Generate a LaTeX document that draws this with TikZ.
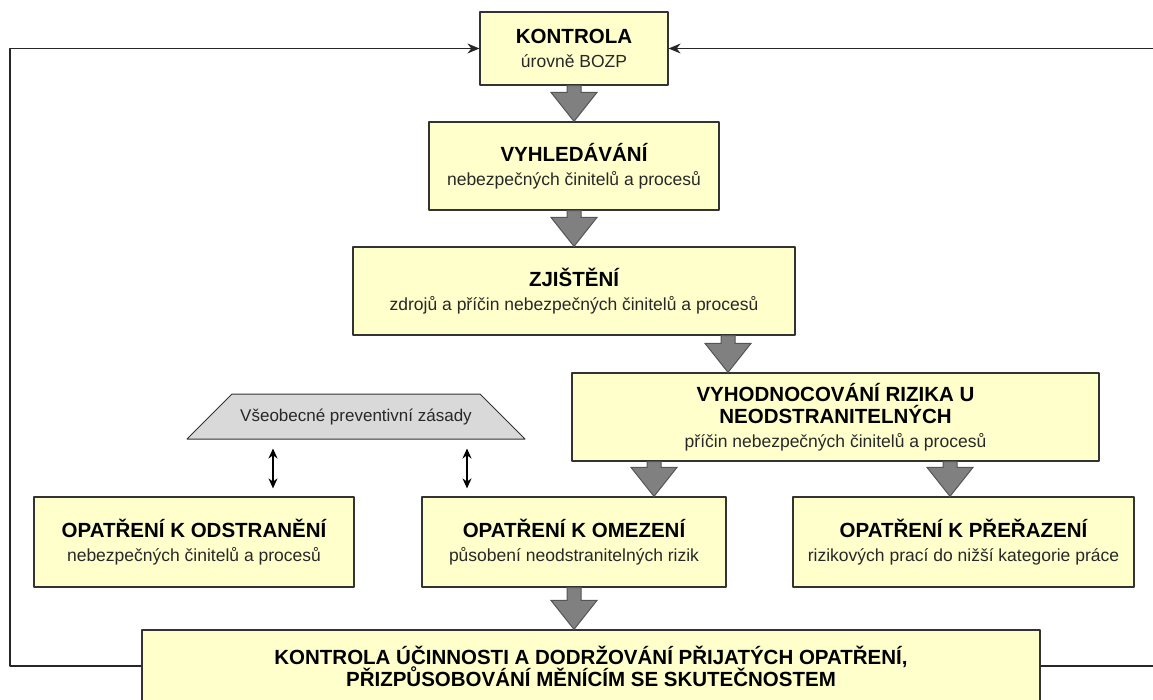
\documentclass[tikz,border=0pt]{standalone}
\usepackage{fontspec}
\setmainfont{Liberation Sans}
\usetikzlibrary{arrows.meta,calc,shapes.geometric}
\definecolor{boxfill}{RGB}{255,255,204}
\definecolor{boxline}{RGB}{51,51,51}
\definecolor{arrfill}{RGB}{128,128,128}
\definecolor{arrline}{RGB}{85,85,85}
\definecolor{trapfill}{RGB}{217,217,217}
\definecolor{subtext}{RGB}{40,40,40}
\newcommand{\ttl}[1]{{\color{black}\bfseries\fontsize{20.5}{22}\selectfont #1}}
\newcommand{\blockarrow}[2]{%
	\filldraw[draw=arrline, fill=arrfill, line width=1pt, line join=miter] let \p1=(#1), \p2=(#2) in
	(\x1-7pt,\y1) -- (\x1+7pt,\y1) -- (\x1+7pt,\y2+29pt) -- (\x1+23pt,\y2+29pt)
	-- (\x1,\y2) -- (\x1-23pt,\y2+29pt) -- (\x1-7pt,\y2+29pt) -- cycle;}
\begin{document}
\begin{tikzpicture}[x=1pt, y=-1pt, line join=round, >={Stealth[length=12pt,width=10pt]},
	box/.style={draw=boxline, fill=boxfill, line width=1.2pt, align=center, inner sep=0pt,
		text=subtext, font=\fontsize{17.5}{24}\selectfont},
	fback/.style={draw=black!85, line width=1.4pt, ->},
	dblarr/.style={line width=1.5pt, {Stealth[length=10pt,width=9pt]}-{Stealth[length=10pt,width=9pt]}}]
			\useasboundingbox (0,0) rectangle (1153,700);
			\clip (0,0) rectangle (1153,700);
			\coordinate (lx) at (10,0); \coordinate (rx) at (1160,0);
			\coordinate (dl) at (273,0); \coordinate (dr) at (467,0);
			\coordinate (p3) at (728,0); \coordinate (p4) at (654,0); \coordinate (p5) at (950,0);
			\node[box, minimum width=188pt, minimum height=73pt] (b1) at (574,48.5) {\ttl{KONTROLA}\\úrovně BOZP};
			\node[box, minimum width=290pt, minimum height=88pt] (b2) at (574,166) {\ttl{VYHLEDÁVÁNÍ}\\nebezpečných činitelů a procesů};
			\node[box, minimum width=442pt, minimum height=88pt] (b3) at (574,291) {\ttl{ZJIŠTĚNÍ}\\zdrojů a příčin nebezpečných činitelů a procesů};
			\node[box, minimum width=527pt, minimum height=88pt] (b4) at (835.5,417) {\ttl{VYHODNOCOVÁNÍ RIZIKA U}\\[-2pt]\ttl{NEODSTRANITELNÝCH}\\příčin nebezpečných činitelů a procesů};
			\node[trapezium, trapezium angle=45, trapezium stretches body, draw=boxline, fill=trapfill, line width=1pt,
				text height=13pt, text depth=4pt, inner ysep=14pt, minimum width=338pt,
				text=subtext, font=\fontsize{17}{24}\selectfont] (zas) at (356,416.5) {Všeobecné preventivní zásady};
			\node[box, minimum width=320pt, minimum height=90pt] (odstr) at (194,542) {\ttl{OPATŘENÍ K ODSTRANĚNÍ}\\nebezpečných činitelů a procesů};
			\node[box, minimum width=304pt, minimum height=90pt] (omez) at (574,542) {\ttl{OPATŘENÍ K OMEZENÍ}\\působení neodstranitelných rizik};
			\node[box, minimum width=341pt, minimum height=90pt] (prer) at (963.5,542) {\ttl{OPATŘENÍ K PŘEŘAZENÍ}\\rizikových prací do nižší kategorie práce};
			\node[box, minimum width=898pt, minimum height=72pt] (kontr) at (591,666) {\ttl{KONTROLA ÚČINNOSTI A DODRŽOVÁNÍ PŘIJATÝCH OPATŘENÍ,}\\[-2pt]\ttl{PŘIZPŮSOBOVÁNÍ MĚNÍCÍM SE SKUTEČNOSTEM}};
			\blockarrow{b1.south}{b2.north}
			\blockarrow{b2.south}{b3.north}
			\blockarrow{b3.south -| p3}{b4.north}
			\blockarrow{b4.south -| p4}{omez.north}
			\blockarrow{b4.south -| p5}{prer.north}
			\blockarrow{omez.south}{kontr.north}
			\draw[dblarr, shorten <=9pt, shorten >=8pt] (zas.south -| dl) -- (odstr.north -| dl);
			\draw[dblarr, shorten <=9pt, shorten >=8pt] (zas.south -| dr) -- (omez.north -| dr);
			\draw[fback] (kontr.west) -- (kontr.west -| lx) |- (b1.west);
			\draw[fback] (kontr.east) -- (kontr.east -| rx) |- (b1.east);
\end{tikzpicture}
\end{document}
